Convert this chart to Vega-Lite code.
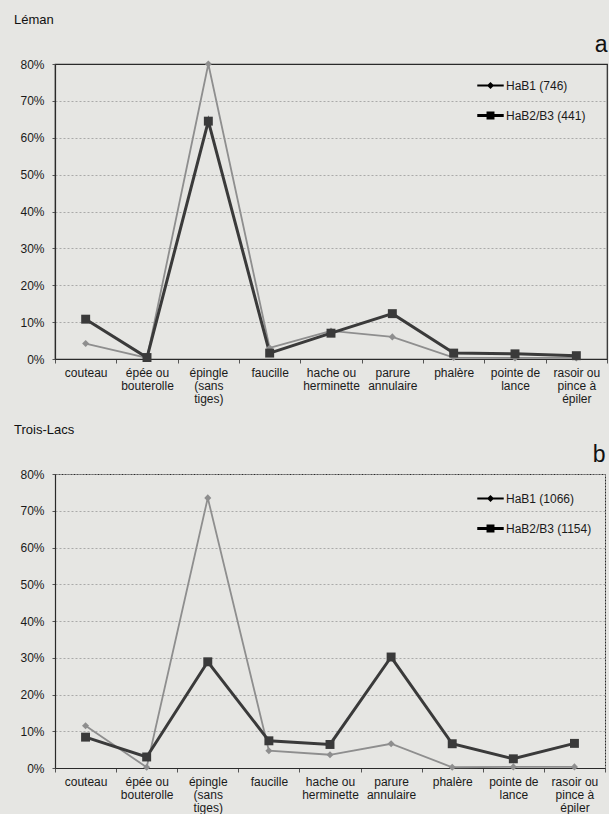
{
  "$schema": "https://vega.github.io/schema/vega-lite/v6.json",
  "background": "#e6e6e3",
  "padding": {"left": 13, "top": 13, "right": 0, "bottom": 0},
  "datasets": {
    "d": [
      {"panel": "a", "cat": "couteau", "s": "HaB1", "label": "HaB1 (746)", "value": 4.2},
      {"panel": "a", "cat": "épée ou\nbouterolle", "s": "HaB1", "label": "HaB1 (746)", "value": 0.3},
      {"panel": "a", "cat": "épingle\n(sans\ntiges)", "s": "HaB1", "label": "HaB1 (746)", "value": 80},
      {"panel": "a", "cat": "faucille", "s": "HaB1", "label": "HaB1 (746)", "value": 3.0},
      {"panel": "a", "cat": "hache ou\nherminette", "s": "HaB1", "label": "HaB1 (746)", "value": 7.6},
      {"panel": "a", "cat": "parure\nannulaire", "s": "HaB1", "label": "HaB1 (746)", "value": 6.0},
      {"panel": "a", "cat": "phalère", "s": "HaB1", "label": "HaB1 (746)", "value": 0.4},
      {"panel": "a", "cat": "pointe de\nlance", "s": "HaB1", "label": "HaB1 (746)", "value": 0.3},
      {"panel": "a", "cat": "rasoir ou\npince à\népiler", "s": "HaB1", "label": "HaB1 (746)", "value": 0.3},
      {"panel": "a", "cat": "couteau", "s": "HaB2", "label": "HaB2/B3 (441)", "value": 10.8},
      {"panel": "a", "cat": "épée ou\nbouterolle", "s": "HaB2", "label": "HaB2/B3 (441)", "value": 0.4},
      {"panel": "a", "cat": "épingle\n(sans\ntiges)", "s": "HaB2", "label": "HaB2/B3 (441)", "value": 64.5},
      {"panel": "a", "cat": "faucille", "s": "HaB2", "label": "HaB2/B3 (441)", "value": 1.6},
      {"panel": "a", "cat": "hache ou\nherminette", "s": "HaB2", "label": "HaB2/B3 (441)", "value": 7.0},
      {"panel": "a", "cat": "parure\nannulaire", "s": "HaB2", "label": "HaB2/B3 (441)", "value": 12.3},
      {"panel": "a", "cat": "phalère", "s": "HaB2", "label": "HaB2/B3 (441)", "value": 1.6},
      {"panel": "a", "cat": "pointe de\nlance", "s": "HaB2", "label": "HaB2/B3 (441)", "value": 1.4},
      {"panel": "a", "cat": "rasoir ou\npince à\népiler", "s": "HaB2", "label": "HaB2/B3 (441)", "value": 0.9},
      {"panel": "b", "cat": "couteau", "s": "HaB1", "label": "HaB1 (1066)", "value": 11.5},
      {"panel": "b", "cat": "épée ou\nbouterolle", "s": "HaB1", "label": "HaB1 (1066)", "value": 0.2},
      {"panel": "b", "cat": "épingle\n(sans\ntiges)", "s": "HaB1", "label": "HaB1 (1066)", "value": 73.5},
      {"panel": "b", "cat": "faucille", "s": "HaB1", "label": "HaB1 (1066)", "value": 4.7},
      {"panel": "b", "cat": "hache ou\nherminette", "s": "HaB1", "label": "HaB1 (1066)", "value": 3.6},
      {"panel": "b", "cat": "parure\nannulaire", "s": "HaB1", "label": "HaB1 (1066)", "value": 6.6},
      {"panel": "b", "cat": "phalère", "s": "HaB1", "label": "HaB1 (1066)", "value": 0.2},
      {"panel": "b", "cat": "pointe de\nlance", "s": "HaB1", "label": "HaB1 (1066)", "value": 0.3},
      {"panel": "b", "cat": "rasoir ou\npince à\népiler", "s": "HaB1", "label": "HaB1 (1066)", "value": 0.3},
      {"panel": "b", "cat": "couteau", "s": "HaB2", "label": "HaB2/B3 (1154)", "value": 8.4},
      {"panel": "b", "cat": "épée ou\nbouterolle", "s": "HaB2", "label": "HaB2/B3 (1154)", "value": 3.0},
      {"panel": "b", "cat": "épingle\n(sans\ntiges)", "s": "HaB2", "label": "HaB2/B3 (1154)", "value": 28.9},
      {"panel": "b", "cat": "faucille", "s": "HaB2", "label": "HaB2/B3 (1154)", "value": 7.4},
      {"panel": "b", "cat": "hache ou\nherminette", "s": "HaB2", "label": "HaB2/B3 (1154)", "value": 6.4},
      {"panel": "b", "cat": "parure\nannulaire", "s": "HaB2", "label": "HaB2/B3 (1154)", "value": 30.2},
      {"panel": "b", "cat": "phalère", "s": "HaB2", "label": "HaB2/B3 (1154)", "value": 6.6},
      {"panel": "b", "cat": "pointe de\nlance", "s": "HaB2", "label": "HaB2/B3 (1154)", "value": 2.5},
      {"panel": "b", "cat": "rasoir ou\npince à\népiler", "s": "HaB2", "label": "HaB2/B3 (1154)", "value": 6.7}
    ]
  },
  "spacing": 18,
  "resolve": {"scale": {"color": "independent", "shape": "independent", "fill": "independent"}, "legend": {"color": "independent", "shape": "independent", "fill": "independent"}},
  "vconcat": [
    {
      "title": {"text": "Léman"},
      "width": 552,
      "height": 295,
      "view": {"stroke": "#2a2a2a", "strokeWidth": 1.2},
      "data": {"name": "d"},
      "transform": [{"filter": "datum.panel == 'a'"}],
      "encoding": {
        "y": {"field": "value", "type": "quantitative", "scale": {"domain": [0, 80], "nice": false},
              "axis": {"values": [0, 10, 20, 30, 40, 50, 60, 70, 80], "labelExpr": "datum.value + '%'", "title": null}}
      },
      "resolve": {"axis": {"x": "independent"}, "scale": {"shape": "independent"}},
      "layer": [
        {
          "mark": {"type": "line"},
          "encoding": {
            "x": {"field": "cat", "type": "nominal", "sort": ["couteau", "épée ou\nbouterolle", "épingle\n(sans\ntiges)", "faucille", "hache ou\nherminette", "parure\nannulaire", "phalère", "pointe de\nlance", "rasoir ou\npince à\népiler"],
                  "scale": {"type": "band", "paddingInner": 0, "paddingOuter": 0},
                  "axis": {"orient": "bottom", "title": null, "labelAngle": 0, "tickBand": "extent", "labelExpr": "split(datum.label, '\\n')", "grid": false}},
            "color": {"field": "label", "type": "nominal",
                      "scale": {"domain": ["HaB1 (746)", "HaB2/B3 (441)"], "range": ["#8e8e8e", "#3a3a3a"]},
                      "legend": null},
            "strokeWidth": {"field": "s", "type": "nominal", "scale": {"domain": ["HaB1", "HaB2"], "range": [1.8, 3]}, "legend": null}
          }
        },
        {
          "mark": {"type": "point", "filled": true, "opacity": 1},
          "encoding": {
            "x": {"field": "cat", "type": "nominal", "sort": ["couteau", "épée ou\nbouterolle", "épingle\n(sans\ntiges)", "faucille", "hache ou\nherminette", "parure\nannulaire", "phalère", "pointe de\nlance", "rasoir ou\npince à\népiler"],
                  "axis": {"orient": "top", "labels": false, "ticks": false, "grid": false, "domain": true, "title": "a", "titleAnchor": "end", "titleFontSize": 23, "titleFontWeight": "normal", "titlePadding": 8, "titleColor": "#111"}},
            "color": {"field": "label", "type": "nominal", "legend": null},
            "shape": {"field": "s", "type": "nominal", "scale": {"domain": ["HaB1", "HaB2"], "range": ["diamond", "square"]}, "legend": null},
            "size": {"field": "s", "type": "nominal", "scale": {"domain": ["HaB1", "HaB2"], "range": [50, 80]}, "legend": null}
          }
        },
        {
          "transform": [{"filter": "false"}],
          "mark": {"type": "point", "filled": true, "opacity": 1, "strokeWidth": 0},
          "encoding": {
            "x": {"field": "cat", "type": "nominal", "axis": null, "sort": ["couteau", "épée ou\nbouterolle", "épingle\n(sans\ntiges)", "faucille", "hache ou\nherminette", "parure\nannulaire", "phalère", "pointe de\nlance", "rasoir ou\npince à\népiler"]},
            "fill": {"field": "label", "type": "nominal",
                     "scale": {"domain": ["HaB1 (746)", "HaB2/B3 (441)"], "range": ["#8e8e8e", "#3a3a3a"]},
                     "legend": {"orient": "none", "legendX": 422, "legendY": 8}},
            "shape": {"field": "label", "type": "nominal",
                      "scale": {"domain": ["HaB1 (746)", "HaB2/B3 (441)"], "range": ["M-1,-0.07H1V0.07H-1ZM0,-0.27L0.27,0L0,0.27L-0.27,0Z", "M-1,-0.11H1V0.11H-1ZM-0.3,-0.3H0.3V0.3H-0.3Z"]},
                      "legend": {"orient": "none", "legendX": 422, "legendY": 8}}
          }
        }
      ]
    },
    {
      "title": {"text": "Trois-Lacs"},
      "width": 550,
      "height": 294,
      "view": {"stroke": "#2a2a2a", "strokeWidth": 1, "strokeDash": [2, 1]},
      "data": {"name": "d"},
      "transform": [{"filter": "datum.panel == 'b'"}],
      "encoding": {
        "y": {"field": "value", "type": "quantitative", "scale": {"domain": [0, 80], "nice": false},
              "axis": {"values": [0, 10, 20, 30, 40, 50, 60, 70, 80], "labelExpr": "datum.value + '%'", "title": null}}
      },
      "resolve": {"axis": {"x": "independent"}, "scale": {"shape": "independent"}},
      "layer": [
        {
          "mark": {"type": "line"},
          "encoding": {
            "x": {"field": "cat", "type": "nominal", "sort": ["couteau", "épée ou\nbouterolle", "épingle\n(sans\ntiges)", "faucille", "hache ou\nherminette", "parure\nannulaire", "phalère", "pointe de\nlance", "rasoir ou\npince à\népiler"],
                  "scale": {"type": "band", "paddingInner": 0, "paddingOuter": 0},
                  "axis": {"orient": "bottom", "title": null, "labelAngle": 0, "tickBand": "extent", "labelExpr": "split(datum.label, '\\n')", "grid": false}},
            "color": {"field": "label", "type": "nominal",
                      "scale": {"domain": ["HaB1 (1066)", "HaB2/B3 (1154)"], "range": ["#8e8e8e", "#3a3a3a"]},
                      "legend": null},
            "strokeWidth": {"field": "s", "type": "nominal", "scale": {"domain": ["HaB1", "HaB2"], "range": [1.8, 3]}, "legend": null}
          }
        },
        {
          "mark": {"type": "point", "filled": true, "opacity": 1},
          "encoding": {
            "x": {"field": "cat", "type": "nominal", "sort": ["couteau", "épée ou\nbouterolle", "épingle\n(sans\ntiges)", "faucille", "hache ou\nherminette", "parure\nannulaire", "phalère", "pointe de\nlance", "rasoir ou\npince à\népiler"],
                  "axis": {"orient": "top", "labels": false, "ticks": false, "grid": false, "domain": false, "title": "b", "titleAnchor": "end", "titleFontSize": 23, "titleFontWeight": "normal", "titlePadding": 8, "titleColor": "#111"}},
            "color": {"field": "label", "type": "nominal", "legend": null},
            "shape": {"field": "s", "type": "nominal", "scale": {"domain": ["HaB1", "HaB2"], "range": ["diamond", "square"]}, "legend": null},
            "size": {"field": "s", "type": "nominal", "scale": {"domain": ["HaB1", "HaB2"], "range": [50, 80]}, "legend": null}
          }
        },
        {
          "transform": [{"filter": "false"}],
          "mark": {"type": "point", "filled": true, "opacity": 1, "strokeWidth": 0},
          "encoding": {
            "x": {"field": "cat", "type": "nominal", "axis": null, "sort": ["couteau", "épée ou\nbouterolle", "épingle\n(sans\ntiges)", "faucille", "hache ou\nherminette", "parure\nannulaire", "phalère", "pointe de\nlance", "rasoir ou\npince à\népiler"]},
            "fill": {"field": "label", "type": "nominal",
                     "scale": {"domain": ["HaB1 (1066)", "HaB2/B3 (1154)"], "range": ["#8e8e8e", "#3a3a3a"]},
                     "legend": {"orient": "none", "legendX": 422, "legendY": 11}},
            "shape": {"field": "label", "type": "nominal",
                      "scale": {"domain": ["HaB1 (1066)", "HaB2/B3 (1154)"], "range": ["M-1,-0.07H1V0.07H-1ZM0,-0.27L0.27,0L0,0.27L-0.27,0Z", "M-1,-0.11H1V0.11H-1ZM-0.3,-0.3H0.3V0.3H-0.3Z"]},
                      "legend": {"orient": "none", "legendX": 422, "legendY": 11}}
          }
        }
      ]
    }
  ],
  "config": {
    "font": "Liberation Sans, Arial, sans-serif",
    "title": {"anchor": "start", "frame": "bounds", "fontSize": 13, "fontWeight": "normal", "color": "#111", "offset": 6, "dx": -6, "font": "Liberation Sans, Arial, sans-serif"},
    "axis": {"labelFont": "Liberation Sans, Arial, sans-serif", "labelFontSize": 12, "labelColor": "#1a1a1a", "domainColor": "#2a2a2a", "domainWidth": 1.2, "tickColor": "#555", "tickSize": 4, "labelPadding": 4, "gridColor": "#8f8f8f", "gridDash": [2, 2], "gridWidth": 0.7, "titleFont": "Liberation Sans, Arial, sans-serif", "labelLineHeight": 13},
    "axisY": {"tickSize": 3, "labelPadding": 8, "grid": true},
    "legend": {
      "title": null,
      "labelFont": "Liberation Sans, Arial, sans-serif",
      "labelFontSize": 12,
      "labelColor": "#1a1a1a",
      "symbolSize": 700,
      "rowPadding": 10,
      "labelOffset": 2,
      "padding": 0,
      "symbolOpacity": 1,
      "symbolStrokeWidth": 0,
      "symbolStrokeColor": "transparent"
    }
  }
}
